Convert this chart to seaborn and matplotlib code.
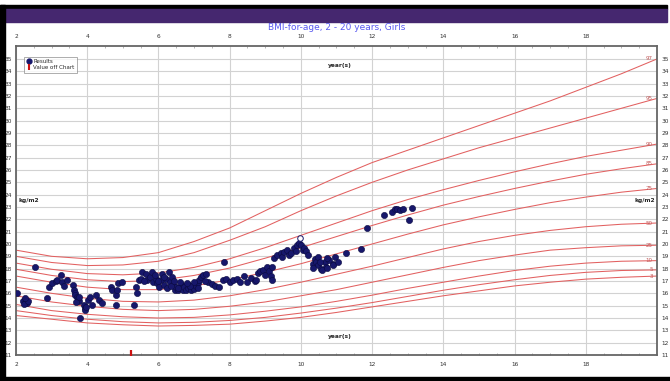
import matplotlib
matplotlib.use("Agg")
import matplotlib.pyplot as plt
from matplotlib.lines import Line2D
from matplotlib.patches import Rectangle
import pandas as pd
import seaborn as sns

# ── Data ──────────────────────────────────────────────────────────────────────

CURVE_AGES = list(range(2, 21))
PCT_LABELS = ['3', '5', '10', '25', '50', '75', '85', '90', '95', '97']
P3 = [14.2, 13.9, 13.6, 13.45, 13.35, 13.4, 13.5, 13.75, 14.05, 14.45, 14.9, 15.35, 15.8, 16.2, 16.6, 16.9, 17.15, 17.3, 17.4]
P5 = [14.6, 14.2, 13.9, 13.7, 13.6, 13.65, 13.8, 14.05, 14.4, 14.8, 15.25, 15.75, 16.25, 16.7, 17.1, 17.45, 17.7, 17.85, 17.9]
P10 = [15.1, 14.6, 14.3, 14.1, 14.0, 14.05, 14.25, 14.55, 14.9, 15.35, 15.85, 16.4, 16.9, 17.4, 17.85, 18.2, 18.45, 18.6, 18.65]
P25 = [15.8, 15.3, 14.95, 14.7, 14.6, 14.7, 14.95, 15.3, 15.8, 16.3, 16.9, 17.5, 18.1, 18.65, 19.1, 19.5, 19.7, 19.85, 19.9]
P50 = [16.5, 16.0, 15.6, 15.35, 15.3, 15.45, 15.8, 16.3, 16.9, 17.55, 18.2, 18.9, 19.6, 20.2, 20.7, 21.1, 21.4, 21.6, 21.7]
P75 = [17.4, 16.9, 16.5, 16.3, 16.3, 16.6, 17.1, 17.7, 18.4, 19.2, 20.0, 20.8, 21.55, 22.2, 22.8, 23.35, 23.8, 24.2, 24.5]
P85 = [17.95, 17.45, 17.1, 16.95, 17.05, 17.45, 18.05, 18.85, 19.7, 20.6, 21.5, 22.35, 23.15, 23.85, 24.5, 25.1, 25.65, 26.1, 26.5]
P90 = [18.45, 17.95, 17.6, 17.5, 17.65, 18.1, 18.8, 19.7, 20.7, 21.7, 22.7, 23.6, 24.4, 25.15, 25.85, 26.5, 27.1, 27.6, 28.1]
P95 = [19.0, 18.5, 18.25, 18.3, 18.6, 19.3, 20.3, 21.4, 22.7, 23.9, 25.0, 26.0, 26.9, 27.8, 28.6, 29.4, 30.2, 31.0, 31.8]
P97 = [19.5, 19.0, 18.8, 18.9, 19.3, 20.2, 21.3, 22.7, 24.1, 25.4, 26.6, 27.6, 28.6, 29.6, 30.6, 31.6, 32.7, 33.8, 35.0]

RESULT_AGE = [
    2.03, 2.19, 2.24, 2.28, 2.32, 2.22, 2.34, 2.26, 2.53, 2.87, 2.92, 3.01, 3.11, 3.15,
    3.25, 3.30, 3.34, 3.44, 3.60, 3.62, 3.65, 3.67, 3.72, 3.75, 3.77, 3.69, 3.78, 3.81,
    3.90, 3.93, 3.95, 3.97, 4.03, 4.07, 4.14, 4.25, 4.33, 4.42, 4.66, 4.70, 4.80, 4.85,
    4.87, 4.82, 4.99, 5.31, 5.36, 5.41, 5.46, 5.50, 5.55, 5.64, 5.69, 5.76, 5.83, 5.85,
    5.92, 5.97, 6.02, 6.06, 6.11, 6.16, 6.20, 6.25, 6.30, 6.32, 6.38, 6.41, 6.47, 6.50,
    6.56, 6.60, 6.66, 6.70, 6.73, 6.77, 6.83, 6.86, 6.91, 6.96, 7.00, 7.05, 7.10, 7.15,
    7.19, 7.24, 7.33, 7.40, 7.50, 7.60, 7.70, 7.85, 7.80, 7.90, 8.00, 8.10, 8.20, 8.30,
    8.40, 8.50, 8.60, 8.70, 8.74, 8.80, 8.85, 8.95, 9.00, 9.05, 9.10, 9.15, 9.20, 9.20,
    9.24, 9.34, 9.43, 9.48, 9.53, 9.62, 9.67, 9.72, 9.81, 9.86, 9.90, 9.95, 10.00, 10.05,
    10.10, 10.15, 10.20, 10.34, 10.39, 10.43, 10.48, 10.57, 10.67, 10.71, 10.80, 10.90,
    10.95, 10.35, 10.49, 10.54, 10.59, 10.73, 10.73, 10.91, 11.03, 11.26, 11.68, 11.85,
    12.34, 12.55, 12.65, 12.71, 12.79, 12.88, 13.04, 13.11,
    5.60, 5.90, 6.00, 6.15, 6.35, 6.45, 6.90, 7.00, 6.60, 6.80, 7.10, 6.55, 7.30,
]
RESULT_BMI = [
    16.05, 15.40, 15.25, 15.40, 15.20, 15.15, 15.35, 15.60, 18.10, 15.60, 16.50, 16.85, 17.00, 17.10,
    17.50, 16.95, 16.60, 17.10, 16.70, 16.30, 16.00, 15.85, 15.70, 15.60, 15.40, 15.30, 15.70, 14.00,
    15.05, 14.80, 14.65, 14.90, 15.45, 15.70, 15.05, 15.85, 15.45, 15.20, 16.50, 16.25, 15.85, 16.30,
    16.80, 15.05, 16.90, 15.05, 16.50, 16.00, 17.10, 17.20, 17.75, 17.55, 17.10, 17.35, 17.75, 16.95,
    17.20, 16.80, 16.55, 17.10, 17.60, 16.70, 17.20, 16.40, 17.75, 16.95, 17.35, 16.70, 16.30, 16.55,
    16.25, 16.40, 16.70, 16.30, 16.55, 16.25, 16.40, 16.70, 16.30, 16.50, 16.35, 16.60, 16.80, 17.10,
    17.35, 17.50, 17.60, 16.90, 16.75, 16.60, 16.50, 18.50, 17.10, 17.20, 16.95, 17.10, 17.20, 16.95,
    17.40, 16.90, 17.25, 17.00, 17.10, 17.65, 17.80, 17.90, 17.50, 18.10, 17.85, 17.40, 18.15, 17.10,
    18.85, 19.10, 19.25, 18.95, 19.35, 19.50, 19.10, 19.25, 19.65, 19.40, 19.90, 20.05, 19.90, 19.55,
    19.70, 19.45, 19.10, 18.40, 18.80, 18.55, 18.30, 18.00, 18.55, 18.15, 18.70, 18.40,
    18.95, 18.07, 18.92, 18.56, 17.90, 18.07, 18.90, 18.30, 18.50, 19.24, 19.60, 21.27,
    22.35, 22.60, 22.80, 22.85, 22.75, 22.80, 21.95, 22.90,
    17.00, 17.50, 17.00, 17.30, 16.60, 17.00, 16.60, 16.90, 16.90, 16.80, 16.40, 16.45, 17.00,
]
OPEN_AGE = [9.98]
OPEN_BMI = [20.45]
OFF_CHART_AGE = [5.22]

# ── Style ─────────────────────────────────────────────────────────────────────

W, H = 670, 381
RED = '#e26060'
NAVY = '#17176b'

sns.set_style('white')
plt.rcParams['font.family'] = ['DejaVu Sans']

fig = plt.figure(figsize=(W / 100, H / 100), dpi=100)


def band(x0, y0, x1, y1, colour):
    """Rectangle in pixel coords (top-left origin)."""
    fig.patches.append(Rectangle((x0 / W, 1 - y1 / H), (x1 - x0) / W, (y1 - y0) / H,
                                 transform=fig.transFigure, color=colour, zorder=0))


band(0, 5, 667, 9, '#000000')
band(0, 9, 667, 22, '#45276f')
band(0, 5, 5, 381, '#000000')
band(0, 377, 670, 381, '#000000')

fig.text(337 / W, 1 - 27 / H, 'BMI-for-age, 2 - 20 years, Girls', color='#5a5af0',
         fontsize=6.5, ha='center', va='center')

ax = fig.add_axes([16 / W, 26 / H, 641 / W, 309 / H])

# percentile curves
curves = pd.DataFrame({'age': CURVE_AGES, '3': P3, '5': P5, '10': P10, '25': P25, '50': P50,
                       '75': P75, '85': P85, '90': P90, '95': P95, '97': P97})
long = curves.melt(id_vars='age', var_name='pct', value_name='bmi')
sns.lineplot(data=long, x='age', y='bmi', hue='pct', hue_order=PCT_LABELS,
             palette={p: RED for p in PCT_LABELS}, estimator=None, linewidth=0.75,
             legend=False, ax=ax, zorder=2)
for p in PCT_LABELS:
    ax.text(19.88, curves[p].iloc[-1], p, fontsize=4, color='#c05858',
            ha='right', va='center', zorder=3)

# results
res = pd.DataFrame({'age': RESULT_AGE, 'bmi': RESULT_BMI})
sns.scatterplot(data=res, x='age', y='bmi', color=NAVY, edgecolor='#0a0a40',
                linewidth=0.4, s=20, ax=ax, zorder=4)
ax.scatter(OPEN_AGE, OPEN_BMI, s=16, facecolor='white', edgecolor=NAVY, linewidth=0.7, zorder=5)
ax.scatter(OFF_CHART_AGE, [11.2], marker='|', s=22, color='#cc1111', linewidth=1.6, zorder=5)

# axes
ax.set_xlim(2, 20)
ax.set_ylim(11, 36.05)
ax.set_xticks(range(2, 20, 2))
ax.set_xticks([x / 2 for x in range(4, 40)], minor=True)
ax.set_yticks(range(11, 36))
ax.set_xlabel('')
ax.set_ylabel('')
ax.grid(True, which='major', color='#d2d2d2', linewidth=0.8, zorder=1)
ax.set_axisbelow(True)
ax.tick_params(axis='x', which='major', top=True, labeltop=True, bottom=True, labelbottom=True,
               length=0, pad=5, labelsize=4.2, labelcolor='#333333')
ax.tick_params(axis='x', which='minor', top=True, bottom=True, direction='in', length=1.5,
               color='#999999', width=0.5)
ax.tick_params(axis='y', left=True, right=True, labelleft=True, labelright=True,
               length=0, pad=3, labelsize=4.2, labelcolor='#333333')
for s in ax.spines.values():
    s.set_color('#666666')
    s.set_linewidth(1.3)

ax.text(2.06, 23.5, 'kg/m2', fontsize=4.2, fontweight='bold', ha='left', va='center')
ax.text(19.95, 23.5, 'kg/m2', fontsize=4.2, fontweight='bold', ha='right', va='center')
ax.text(11.1, 34.45, 'year(s)', fontsize=4.2, fontweight='bold', ha='center', va='center')
ax.text(11.1, 12.5, 'year(s)', fontsize=4.2, fontweight='bold', ha='center', va='center')

handles = [
    Line2D([], [], marker='o', linestyle='', color=NAVY, markersize=3.5, label='Results'),
    Line2D([], [], marker='|', linestyle='', color='#cc1111', markersize=4, markeredgewidth=1.5,
           label='Value off Chart'),
]
leg = ax.legend(handles=handles, loc='upper left', bbox_to_anchor=(0.008, 0.975), fontsize=4,
                frameon=True, fancybox=False, edgecolor='#888888', borderpad=0.4,
                handletextpad=0.3, labelspacing=0.3, handlelength=1.0)
leg.get_frame().set_linewidth(0.6)

fig.savefig('out.png', dpi=100)
